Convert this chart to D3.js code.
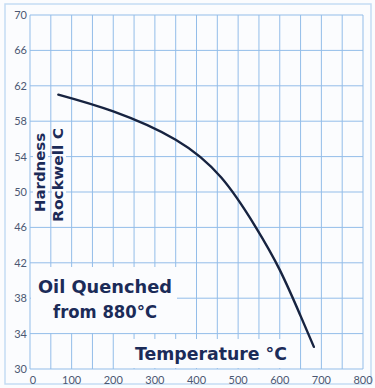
<!DOCTYPE html>
<html><head><meta charset="utf-8">
<script src="https://cdn.jsdelivr.net/npm/d3@7"></script>
<style>html,body{margin:0;padding:0;background:#fbfcfe;}svg{display:block;}</style>
</head><body>
<script>
const temps =    [68, 200, 350, 460, 540, 600, 650, 682];
const hardness = [61.0, 59.1, 55.9, 51.6, 46.2, 41.2, 36.0, 32.5];
const xTicks = [0, 100, 200, 300, 400, 500, 600, 700, 800];
const yTicks = [30, 34, 38, 42, 46, 50, 54, 58, 62, 66, 70];
const xGrid = d3.range(0, 801, 50);

const W = 375, H = 388;
const svg = d3.select("body").append("svg").attr("width", W).attr("height", H);
const x = d3.scaleLinear().domain([0, 800]).range([30, 363]);
const y = d3.scaleLinear().domain([30, 70]).range([369, 15]);
const grid = "#93bde9", ink = "#1b2b58", tick = "#4b5873";
const font = "Lato, 'DejaVu Sans', sans-serif";
const lfont = "'DejaVu Sans', sans-serif";

svg.append("rect").attr("x", 0).attr("y", 0).attr("width", W).attr("height", H).attr("fill", "#fbfcfe");
svg.append("rect").attr("x", 5).attr("y", 4).attr("width", 366).attr("height", 380)
  .attr("fill", "none").attr("stroke", "#c5dcf3").attr("stroke-width", 1.5);

const g = svg.append("g");
g.selectAll("line.v").data(xGrid).join("line")
  .attr("x1", d => x(d)).attr("x2", d => x(d)).attr("y1", y(70)).attr("y2", y(30))
  .attr("stroke", grid).attr("stroke-width", 1);
g.selectAll("line.h").data(yTicks).join("line")
  .attr("y1", d => y(d)).attr("y2", d => y(d)).attr("x1", x(0)).attr("x2", x(800))
  .attr("stroke", grid).attr("stroke-width", 1);

// white label backgrounds
const bg = "#fbfcfe";
svg.append("rect").attr("x", 31).attr("y", 267).attr("width", 146).attr("height", 66).attr("fill", bg);
svg.append("rect").attr("x", 132).attr("y", 339).attr("width", 158).attr("height", 29).attr("fill", bg);
svg.append("rect").attr("x", 33).attr("y", 130).attr("width", 15).attr("height", 84).attr("fill", bg);
svg.append("rect").attr("x", 52).attr("y", 126).attr("width", 14).attr("height", 98).attr("fill", bg);

// tick labels
svg.selectAll("text.yt").data(yTicks).join("text")
  .attr("x", 27).attr("y", d => y(d) + 4).attr("text-anchor", "end")
  .attr("font-family", font).attr("font-size", 11).attr("fill", tick).text(d => d);
svg.selectAll("text.xt").data(xTicks).join("text")
  .attr("x", d => x(d) + (d === 0 ? 3 : 0)).attr("y", 384).attr("text-anchor", "middle")
  .attr("font-family", font).attr("font-size", 11).attr("fill", tick).text(d => d);

// curve
const line = d3.line().x(d => x(d[0])).y(d => y(d[1])).curve(d3.curveNatural);
svg.append("path").datum(temps.map((t, i) => [t, hardness[i]]))
  .attr("d", line).attr("fill", "none").attr("stroke", "#172340").attr("stroke-width", 2.4)
  .attr("stroke-linecap", "round");

// labels
const lab = (txt, xx, yy, size, len, rot) => {
  const t = svg.append("text").attr("font-family", lfont).attr("font-weight", 700)
    .attr("font-size", size).attr("fill", ink).attr("text-anchor", "middle")
    .attr("textLength", len).attr("lengthAdjust", "spacingAndGlyphs").text(txt);
  if (rot) t.attr("transform", `translate(${xx},${yy}) rotate(-90)`);
  else t.attr("x", xx).attr("y", yy);
};
lab("Hardness", 45, 172.5, 14, 79, true);
lab("Rockwell C", 63, 175, 14, 94, true);
lab("Oil Quenched", 105, 293, 18, 134);
lab("from 880°C", 105, 318, 18, 104);
lab("Temperature °C", 211, 360, 18, 152);
</script>
</body></html>
